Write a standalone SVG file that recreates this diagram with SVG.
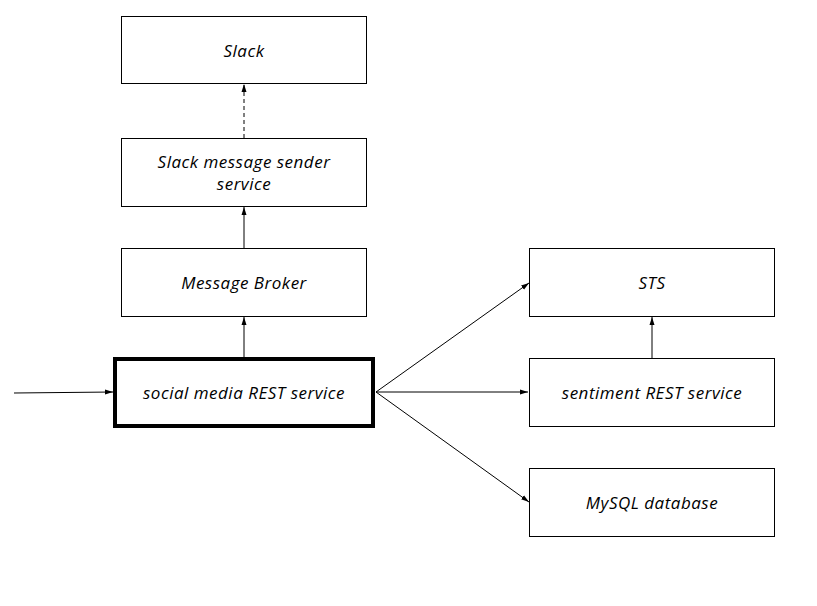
<svg xmlns="http://www.w3.org/2000/svg" width="817" height="606" viewBox="0 0 817 606">
<style>
.box{fill:#fff;stroke:#000;stroke-width:1}
.main{fill:#fff;stroke:#000;stroke-width:4}
.lbl{font-family:"Open Sans","DejaVu Sans",sans-serif;font-style:italic;font-size:17px;letter-spacing:0.5px;fill:#000;text-anchor:middle;dominant-baseline:central}
.c{fill:none;stroke:#000;stroke-width:1}
.d{stroke-dasharray:4 3}
</style>
<defs>
<marker id="ah" markerUnits="userSpaceOnUse" markerWidth="8" markerHeight="6" refX="8" refY="3" orient="auto">
<path d="M0,0.5 L8,3 L0,5.5 Z" fill="#000"/>
</marker>
</defs>
<rect width="817" height="606" fill="#fff"/>
<g id="connectors">
<line class="c" x1="14" y1="393" x2="113" y2="392" marker-end="url(#ah)"/>
<line class="c" x1="244" y1="357" x2="244" y2="317" marker-end="url(#ah)"/>
<line class="c" x1="244" y1="248" x2="244" y2="207" marker-end="url(#ah)"/>
<line class="c d" x1="244" y1="138" x2="244" y2="84" marker-end="url(#ah)"/>
<line class="c" x1="376" y1="392" x2="529" y2="283" marker-end="url(#ah)"/>
<line class="c" x1="376" y1="392" x2="528" y2="392" marker-end="url(#ah)"/>
<line class="c" x1="376" y1="392" x2="529" y2="502" marker-end="url(#ah)"/>
<line class="c" x1="652" y1="358" x2="652" y2="317" marker-end="url(#ah)"/>
</g>
<g id="slack">
<rect class="box" x="121.5" y="16.5" width="245" height="67"/>
<text class="lbl" x="244" y="50">Slack</text>
</g>
<g id="sender">
<rect class="box" x="121.5" y="138.5" width="245" height="68"/>
<text class="lbl" x="244" y="161">Slack message sender</text>
<text class="lbl" x="244" y="183">service</text>
</g>
<g id="broker">
<rect class="box" x="121.5" y="248.5" width="245" height="68"/>
<text class="lbl" x="244" y="282">Message Broker</text>
</g>
<g id="social">
<rect class="main" x="115" y="359" width="258" height="67"/>
<text class="lbl" x="244" y="392">social media REST service</text>
</g>
<g id="sts">
<rect class="box" x="529.5" y="248.5" width="245" height="68"/>
<text class="lbl" x="652" y="282">STS</text>
</g>
<g id="sentiment">
<rect class="box" x="529.5" y="358.5" width="245" height="68"/>
<text class="lbl" x="652" y="392">sentiment REST service</text>
</g>
<g id="mysql">
<rect class="box" x="529.5" y="468.5" width="245" height="68"/>
<text class="lbl" x="652" y="502">MySQL database</text>
</g>
</svg>
